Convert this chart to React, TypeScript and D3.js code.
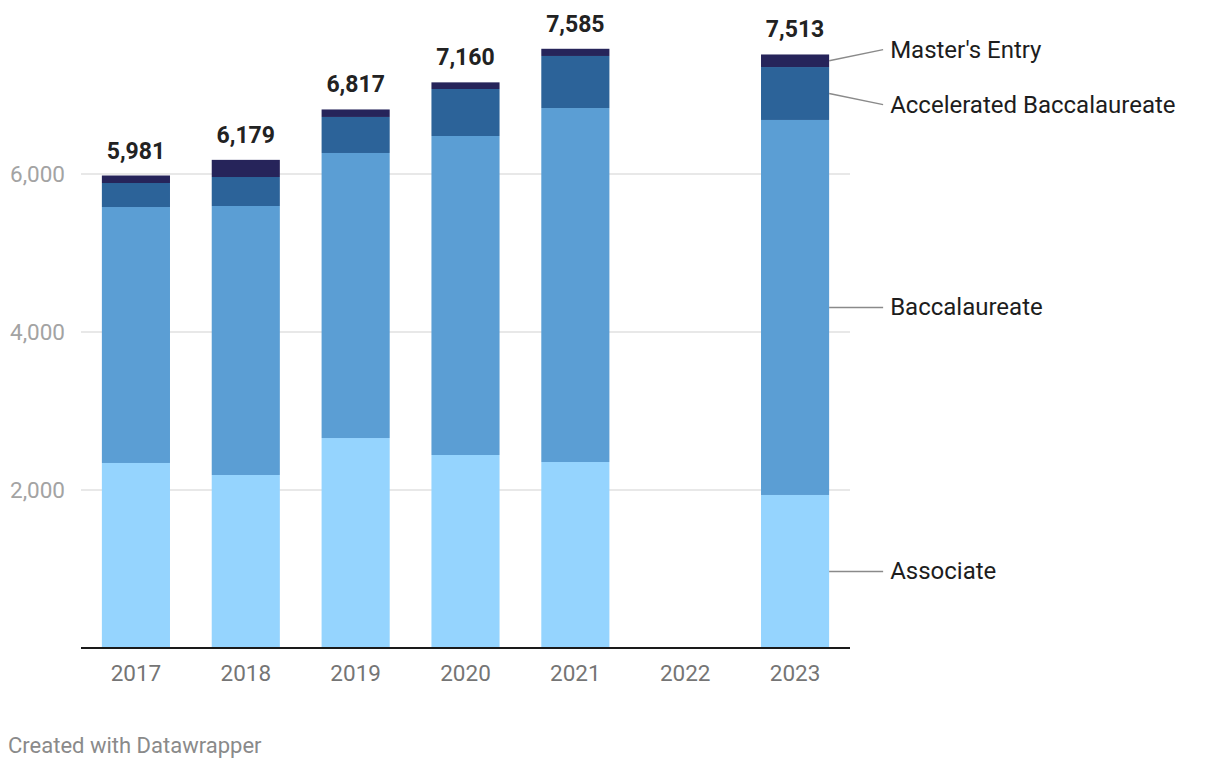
import React from "react";
import * as d3 from "d3";

const years = ["2017", "2018", "2019", "2020", "2021", "2022", "2023"];
const associate: (number | null)[] = [2342, 2190, 2658, 2443, 2354, null, 1937];
const baccalaureate: (number | null)[] = [3240, 3405, 3608, 4038, 4481, null, 4747];
const accelerated: (number | null)[] = [304, 367, 456, 595, 659, null, 670];
const masters: (number | null)[] = [95, 217, 95, 84, 91, null, 159];
const seriesNames = ["Associate", "Baccalaureate", "Accelerated Baccalaureate", "Master's Entry"];
const seriesColors = ["#95d4fe", "#5b9ed4", "#2c6399", "#26245a"];
const yTicks = [2000, 4000, 6000];

const W = 1220;
const H = 770;
const FONT = "Roboto, 'Noto Sans', sans-serif";

export default function App() {
  const seriesValues = [associate, baccalaureate, accelerated, masters];
  const rows = years.map((year, i) => {
    const r: any = { year, has: associate[i] !== null };
    seriesNames.forEach((n, k) => (r[n] = seriesValues[k][i] ?? 0));
    return r;
  });
  const stacked = d3.stack().keys(seriesNames)(rows);

  const x = d3.scaleBand<string>().domain(years).range([81, 850]).paddingInner(0.38).paddingOuter(0.19);
  const y = d3.scaleLinear().domain([0, 8000]).range([648, 16]);
  const fmt = d3.format(",");

  const lastIdx = years.length - 1;
  const lastX = (x(years[lastIdx]) as number) + x.bandwidth();
  const mids = stacked.map((s) => y((s[lastIdx][0] + s[lastIdx][1]) / 2));
  const labelY = mids.slice();
  const minGap = 55;
  for (let iter = 0; iter < 50; iter++) {
    for (let k = 0; k < labelY.length - 1; k++) {
      const d = labelY[k] - labelY[k + 1];
      if (d < minGap) {
        const push = (minGap - d) / 2;
        labelY[k] += push;
        labelY[k + 1] -= push;
      }
    }
  }

  return (
    <svg
      width={W}
      height={H}
      style={{ position: "absolute", left: 0, top: 0, background: "#fff" }}
      fontFamily={FONT}
    >
      {yTicks.map((t) => (
        <g key={t}>
          <line x1={81} x2={850} y1={y(t)} y2={y(t)} stroke="#e0e0e0" strokeWidth={1.3} />
          <text x={10} y={y(t) + 8} fontSize={22.5} fill="#a3a3a3">
            {fmt(t)}
          </text>
        </g>
      ))}
      {stacked.map((s, k) => (
        <g key={s.key} fill={seriesColors[k]}>
          {s.map((d, i) =>
            rows[i].has ? (
              <rect
                key={i}
                x={x(years[i])}
                width={x.bandwidth()}
                y={y(d[1])}
                height={y(d[0]) - y(d[1])}
              />
            ) : null
          )}
        </g>
      ))}
      {rows.map((r, i) => {
        if (!r.has) return null;
        const total = stacked[stacked.length - 1][i][1];
        return (
          <text
            key={i}
            x={(x(r.year) as number) + x.bandwidth() / 2}
            y={y(total) - 17}
            textAnchor="middle"
            fontSize={23}
            fontWeight="bold"
            fill="#222"
          >
            {fmt(total)}
          </text>
        );
      })}
      <line x1={81} x2={850} y1={648} y2={648} stroke="#1a1a1a" strokeWidth={2} />
      {years.map((yr) => (
        <text
          key={yr}
          x={(x(yr) as number) + x.bandwidth() / 2}
          y={681}
          textAnchor="middle"
          fontSize={22.5}
          fill="#757575"
        >
          {yr}
        </text>
      ))}
      {seriesNames.map((n, k) => (
        <g key={n}>
          <line
            x1={lastX}
            y1={mids[k]}
            x2={lastX + 54}
            y2={labelY[k]}
            stroke="#8a8a8a"
            strokeWidth={1.5}
          />
          <text x={lastX + 61} y={labelY[k] + 8} fontSize={24} fill="#1d1d1d">
            {n}
          </text>
        </g>
      ))}
      <text x={8} y={753} fontSize={22} fill="#8a8a8a">
        Created with Datawrapper
      </text>
    </svg>
  );
}
